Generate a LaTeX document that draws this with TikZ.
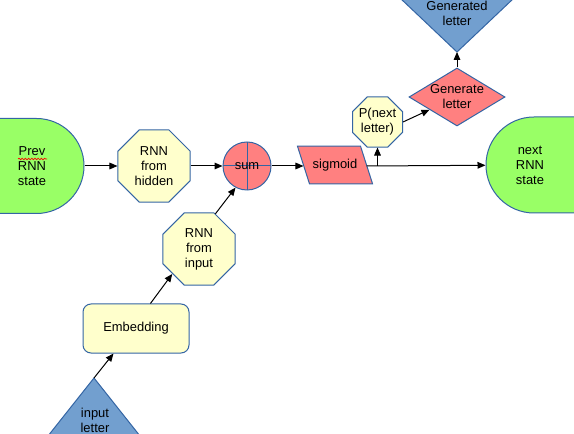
\documentclass[tikz,border=0pt]{standalone}
\usepackage{fontspec}
\setmainfont{Liberation Sans}
\usetikzlibrary{shapes.geometric,shapes.misc,arrows.meta,decorations.pathmorphing}
\definecolor{edgeblue}{HTML}{3465A4}
\definecolor{statefill}{HTML}{99FF66}
\definecolor{notefill}{HTML}{FFFFCC}
\definecolor{opfill}{HTML}{FF8080}
\definecolor{iofill}{HTML}{729FCF}

\begin{document}
\begin{tikzpicture}[x=0.75pt,y=-0.75pt,
  txt/.style={font=\fontsize{9.7pt}{11.3pt}\selectfont, align=center, inner sep=0pt, text=black},
  shapeline/.style={draw=edgeblue, line width=0.75pt},
  statebox/.style={shapeline, fill=statefill, rounded rectangle, inner sep=0pt},
  octo/.style={shapeline, fill=notefill, regular polygon, regular polygon sides=8, inner sep=0pt},
  sumnode/.style={shapeline, fill=opfill, circle, minimum size=36pt, inner sep=0pt,
    path picture={\draw[edgeblue, line width=0.75pt]
      (path picture bounding box.north) -- (path picture bounding box.south)
      (path picture bounding box.west) -- (path picture bounding box.east);}},
  flow/.style={line width=0.75pt, -{Triangle[length=6pt,width=5pt]}},
]
\useasboundingbox (0,0) rectangle (574,434);

% recurrent state in and out
\node[statebox, rounded rectangle west arc=none, minimum width=69.75pt, minimum height=71.25pt,
  label={[txt, xshift=-3.4pt]center:Prev\\RNN\\state}] (prev) at (36.5,166) {};
\node[statebox, rounded rectangle east arc=none, minimum width=73.5pt, minimum height=72pt,
  label={[txt, xshift=-3.75pt]center:next\\RNN\\state}] (next) at (535,165) {};
\draw[red, line width=0.5pt, decorate, decoration={snake, amplitude=0.6pt, segment length=2.4pt}]
  (18,159) -- (47,159);

% hidden and input projections
\node[octo, minimum size=58.5pt, label={[txt]center:RNN\\from\\hidden}] (hid) at (154,166) {};
\node[octo, minimum size=58.5pt, label={[txt]center:RNN\\from\\input}] (rin) at (199,249) {};
\node[octo, minimum size=40.6pt, label={[txt]center:P(next\\letter)}] (P) at (377.5,122) {};

% combine and squash
\node[sumnode, label={[txt]center:sum}] (sum) at (247,166) {};
\node[minimum width=46.9pt, minimum height=27.75pt, inner sep=0pt] (sig) at (335,165) {};
\path[shapeline, fill=opfill]
  ([xshift=-4.5pt]sig.north west) -- ([xshift=-4.5pt]sig.north east) --
  ([xshift=4.5pt]sig.south east) -- ([xshift=4.5pt]sig.south west) -- cycle;
\node[txt] (sigtxt) at (sig) {sigmoid};

% sampling
\node[shapeline, fill=opfill, diamond, minimum width=72pt, minimum height=43.5pt, inner sep=0pt,
  label={[txt]center:Generate\\letter}] (diam) at (457,97) {};
\path[shapeline, fill=iofill] (457,52) -- (533,-20) -- (381,-20) -- cycle;
\coordinate (genapex) at (457,52);
\node[txt] (gentxt) at (457,13) {Generated\\letter};

% input side
\node[shapeline, fill=notefill, rectangle, rounded corners=6pt, minimum width=79.5pt,
  minimum height=36.75pt, inner sep=0pt, label={[txt]center:Embedding}] (emb) at (136,328.5) {};
\path[shapeline, fill=iofill] (94,378) -- (167,470) -- (21,470) -- cycle;
\coordinate (inapex) at (94,378);
\node[txt] (intxt) at (95,420) {input\\letter};

% connectors
\draw[flow] (prev.east) -- (hid);
\draw[flow] (hid) -- (sum);
\draw[flow] (sum.east) -- (sum.east -| sig.west);
\draw[flow] (sig.east |- sum.east) -- (next);
\draw[flow] (P.south |- sum.east) -- (P.south);
\draw[flow] (P.east) -- (diam);
\draw[flow] (diam.north) -- (genapex);
\draw[flow] (inapex) -- (emb.228);
\draw[flow] (emb.60) -- (rin.223);
\draw[flow] (rin.65) -- (sum.242);
\end{tikzpicture}
\end{document}
